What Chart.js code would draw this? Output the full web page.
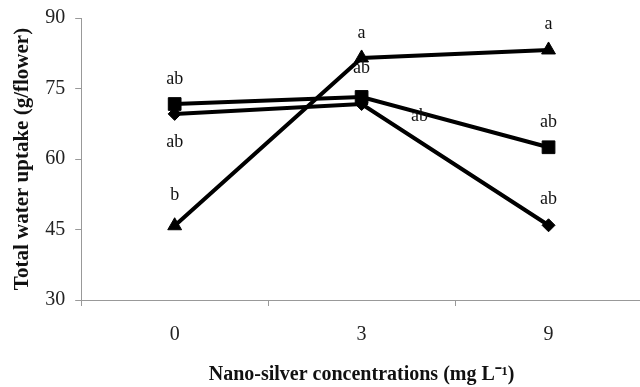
<!DOCTYPE html>
<html>
<head>
<meta charset="utf-8">
<script src="https://cdn.jsdelivr.net/npm/chart.js@4"></script>
<style>
  html,body{margin:0;padding:0;background:#fff;overflow:hidden;}
  #wrap{width:652px;height:391px;margin-top:-4px;position:relative;}
</style>
</head>
<body>
<div id="wrap"><canvas id="c"></canvas></div>
<script>
const concentrations = ['0', '3', '9'];
const seriesTriangle = [45.8, 81.5, 83.2];
const seriesSquare = [71.7, 73.2, 62.5];
const seriesDiamond = [69.6, 71.7, 45.9];
const lettersTriangle = ['b', 'a', 'a'];
const lettersSquare = ['ab', 'ab', 'ab'];
const lettersDiamond = ['ab', 'ab', 'ab'];
const yTicks = [30, 45, 60, 75, 90];

// pixel offsets for the significance letters [dx, dy] per point
const letterOffsets = [
  [[0,-30],[0,-25],[0,-26]],
  [[0,-25],[0,-29],[0,-25]],
  [[0,28],[58,12],[0,-26]]
];
const letterSets = [lettersTriangle, lettersSquare, lettersDiamond];

const letterPlugin = {
  id:'letters',
  afterDatasetsDraw(chart){
    const ctx = chart.ctx;
    ctx.save();
    ctx.font = '18px "Liberation Serif"';
    ctx.fillStyle = '#111';
    ctx.textAlign = 'center';
    ctx.textBaseline = 'middle';
    chart.data.datasets.forEach((ds,i)=>{
      const meta = chart.getDatasetMeta(i);
      meta.data.forEach((pt,j)=>{
        const o = letterOffsets[i][j];
        ctx.fillText(letterSets[i][j], pt.x + o[0], pt.y + o[1]);
      });
    });
    ctx.restore();
  }
};

function ds(data, style, radius){
  return {data, borderColor:'#000', backgroundColor:'#000', borderWidth:4,
    pointStyle:style, pointRadius:radius, pointBorderWidth:1, tension:0};
}

new Chart(document.getElementById('c'), {
  type:'line',
  data:{ labels:concentrations, datasets:[
    ds(seriesTriangle,'triangle',8),
    ds(seriesSquare,'rect',9),
    ds(seriesDiamond,'rectRot',6.5)
  ]},
  options:{
    responsive:true, maintainAspectRatio:false, animation:false,
    layout:{padding:{top:5,left:10,right:0,bottom:0}},
    plugins:{legend:{display:false}, tooltip:{enabled:false}},
    scales:{
      x:{
        offset:true,
        grid:{display:true, offset:true, drawOnChartArea:false, drawTicks:true, tickLength:6, color:'#999'},
        border:{display:true, color:'#999', width:1},
        ticks:{color:'#222', font:{family:'Liberation Serif', size:20}, padding:17},
        title:{display:true, text:'Nano-silver concentrations (mg L\u207B\u00B9)', color:'#111',
          font:{family:'Liberation Serif', size:20, weight:'bold', lineHeight:1}, padding:{top:1, bottom:2}}
      },
      y:{
        min:30, max:90,
        afterBuildTicks(axis){ axis.ticks = yTicks.map(v=>({value:v})); },
        grid:{display:true, drawOnChartArea:false, drawTicks:true, tickLength:6, color:'#999'},
        border:{display:true, color:'#999', width:1},
        ticks:{color:'#222', font:{family:'Liberation Serif', size:20}, padding:10},
        title:{display:true, text:'Total water uptake (g/flower)', color:'#111',
          font:{family:'Liberation Serif', size:21, weight:'bold'}, padding:{top:0, bottom:0}}
      }
    }
  },
  plugins:[letterPlugin]
});
</script>
</body>
</html>
